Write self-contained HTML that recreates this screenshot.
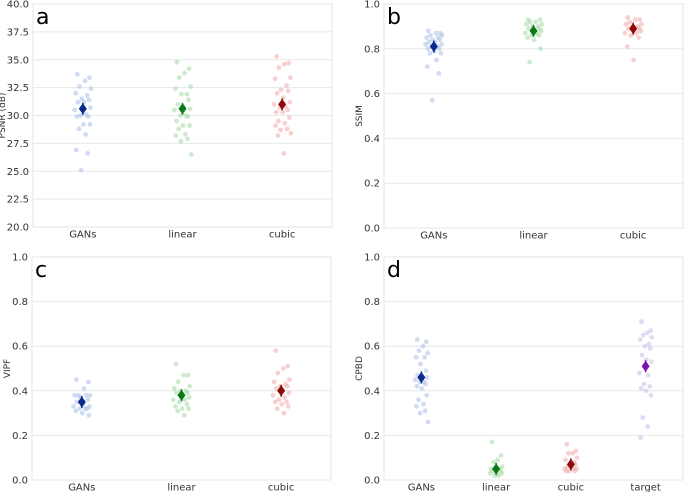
<!DOCTYPE html>
<html><head><meta charset="utf-8"><style>
html,body{margin:0;padding:0;background:#fff;width:685px;height:492px;overflow:hidden}
svg{display:block;font-family:"DejaVu Sans","Liberation Sans",sans-serif}
</style></head><body>
<svg id="fig" width="685" height="492"></svg>
<script>
const catsABC = ["GANs","linear","cubic"];
const catsD = ["GANs","linear","cubic","target"];
const psnrGANs = [33.7,33.4,33.1,32.6,32.4,32.0,31.8,31.5,31.4,31.2,31.2,30.7,30.5,30.1,30.0,29.9,29.9,29.2,29.2,28.8,28.3,26.9,26.6,25.1];
const psnrLinear = [34.8,34.2,33.8,33.4,32.6,32.4,31.9,31.9,31.4,31.0,30.8,30.6,30.5,30.0,30.0,29.9,29.5,29.1,29.1,28.8,28.3,28.2,27.9,27.7,26.5];
const psnrCubic = [35.3,34.7,34.6,34.3,33.4,33.3,32.7,32.3,32.2,32.0,31.6,31.2,31.0,30.8,30.7,30.5,30.3,30.3,29.8,29.5,29.3,29.1,28.8,28.7,28.4,28.2,26.6];
const psnrMeans = [30.6,30.6,31.0];
const ssimGANs = [0.88,0.87,0.87,0.86,0.86,0.85,0.85,0.84,0.84,0.83,0.83,0.82,0.82,0.81,0.81,0.80,0.80,0.79,0.78,0.78,0.75,0.72,0.69,0.57];
const ssimLinear = [0.93,0.93,0.92,0.92,0.91,0.91,0.90,0.90,0.89,0.89,0.88,0.88,0.87,0.87,0.86,0.86,0.85,0.84,0.80,0.74];
const ssimCubic = [0.94,0.93,0.93,0.92,0.91,0.91,0.90,0.90,0.89,0.89,0.88,0.88,0.87,0.87,0.86,0.85,0.81,0.75];
const ssimMeans = [0.81,0.88,0.89];
const vipfGANs = [0.45,0.44,0.41,0.38,0.38,0.38,0.38,0.37,0.36,0.35,0.34,0.33,0.33,0.32,0.32,0.32,0.31,0.30,0.29];
const vipfLinear = [0.52,0.47,0.47,0.44,0.42,0.41,0.40,0.40,0.39,0.39,0.38,0.37,0.36,0.36,0.35,0.34,0.33,0.32,0.32,0.31,0.29];
const vipfCubic = [0.58,0.51,0.50,0.48,0.45,0.44,0.43,0.42,0.42,0.41,0.40,0.39,0.38,0.37,0.36,0.35,0.35,0.34,0.33,0.32,0.30];
const vipfMeans = [0.35,0.38,0.40];
const cpbdGANs = [0.63,0.62,0.60,0.58,0.57,0.55,0.55,0.52,0.49,0.47,0.46,0.46,0.45,0.44,0.44,0.43,0.42,0.41,0.38,0.36,0.34,0.33,0.31,0.30,0.26];
const cpbdLinear = [0.17,0.11,0.09,0.08,0.06,0.05,0.05,0.04,0.04,0.04,0.03,0.03,0.03,0.02,0.02];
const cpbdCubic = [0.16,0.13,0.12,0.12,0.10,0.09,0.08,0.07,0.07,0.06,0.06,0.05,0.05,0.05,0.04,0.04,0.04];
const cpbdTarget = [0.71,0.67,0.66,0.65,0.64,0.63,0.61,0.60,0.59,0.56,0.54,0.53,0.48,0.47,0.43,0.42,0.41,0.40,0.38,0.28,0.24,0.19];
const cpbdMeans = [0.46,0.05,0.07,0.51];
const ticksPSNR = ["20.0","22.5","25.0","27.5","30.0","32.5","35.0","37.5","40.0"];
const ticksUnit = ["0.0","0.2","0.4","0.6","0.8","1.0"];
const jitter = [-0.1,0.12,0.04,-0.06,0.15,-0.13,0.08,-0.02,0.11,-0.09,0.02,0.14,-0.15,0.06,-0.04,0.1,-0.11,0.01,0.13,-0.07,0.05,-0.12,0.09,-0.03,0.16,-0.08,0.03];

const NS="http://www.w3.org/2000/svg";
const svg=document.getElementById('fig');
function mk(tag,attrs,parent){const e=document.createElementNS(NS,tag);for(const k in attrs)e.setAttribute(k,attrs[k]);(parent||svg).appendChild(e);return e;}
const light=["#aabfe6","#a6d9a6","#f0aaaa","#c4bde8"];
const dark=["#0a2a8c","#0a7a14","#8c0a0a","#7a14a8"];

function panel(p){
  const g=mk('g',{});
  
  
  const y=v=>p.bot-(v-p.min)/(p.max-p.min)*(p.bot-p.top);
  const bw=(p.right-p.left)/p.cats.length;
  const x=i=>p.left+bw*(i+0.5);
  p.ticks.forEach(t=>{
    const v=parseFloat(t),yy=y(v);
    const gl=mk('line',{x1:p.left,x2:p.right,y1:yy,y2:yy,stroke:"#e8e8e8","stroke-width":1},g);
    
    
    const tl=mk('text',{x:p.left-4,y:yy+3.5,"text-anchor":"end","font-size":10,fill:"#333"},g);
    tl.textContent=t;
    
    
  });
  const fr=mk('rect',{x:p.left,y:p.top,width:p.right-p.left,height:p.bot-p.top,fill:"none",stroke:"#e6e6e6","stroke-width":1},g);
  
  
  p.cats.forEach((c,i)=>{
    const tl=mk('text',{x:x(i),y:p.bot+10.5,"text-anchor":"middle","font-size":10,fill:"#333"},g);
    tl.textContent=c;
    
    
    p.series[i].forEach((v,k)=>{
      const pt=mk('circle',{cx:x(i)+jitter[k%jitter.length]*bw*0.55,cy:y(v),r:2.4,fill:light[i],opacity:0.55},g);
      
      
    });
    const m=p.means[i],mx=x(i),my=y(m);
    const eb=mk('line',{x1:mx,x2:mx,y1:my-6,y2:my+6,stroke:dark[i],"stroke-width":1.5},g);
    
    
    const d=mk('path',{d:`M${mx},${my-5.5}L${mx+4},${my}L${mx},${my+5.5}L${mx-4},${my}Z`,fill:dark[i]},g);
    
    
  });
  const yl=mk('text',{x:0,y:0,"text-anchor":"middle","font-size":9,fill:"#333",transform:`translate(${p.ylx},${(p.top+p.bot)/2}) rotate(-90)`},g);
  yl.textContent=p.ylabel;
  
  
  const lt=mk('text',{x:p.left+3,y:p.top+20,"font-size":22,fill:"#000"},g);
  lt.textContent=p.letter;
  
  
}
panel({letter:"a",left:33,right:332,top:4,bot:227,min:20,max:40,ticks:ticksPSNR,cats:catsABC,series:[psnrGANs,psnrLinear,psnrCubic],means:psnrMeans,ylabel:"PSNR (dB)",ylx:5});
panel({letter:"b",left:384,right:683,top:4,bot:228,min:0,max:1,ticks:ticksUnit,cats:catsABC,series:[ssimGANs,ssimLinear,ssimCubic],means:ssimMeans,ylabel:"SSIM",ylx:362});
panel({letter:"c",left:32,right:331,top:257,bot:480,min:0,max:1,ticks:ticksUnit,cats:catsABC,series:[vipfGANs,vipfLinear,vipfCubic],means:vipfMeans,ylabel:"VIPF",ylx:10});
panel({letter:"d",left:384,right:683,top:257,bot:480,min:0,max:1,ticks:ticksUnit,cats:catsD,series:[cpbdGANs,cpbdLinear,cpbdCubic,cpbdTarget],means:cpbdMeans,ylabel:"CPBD",ylx:362});
</script>
</body></html>
